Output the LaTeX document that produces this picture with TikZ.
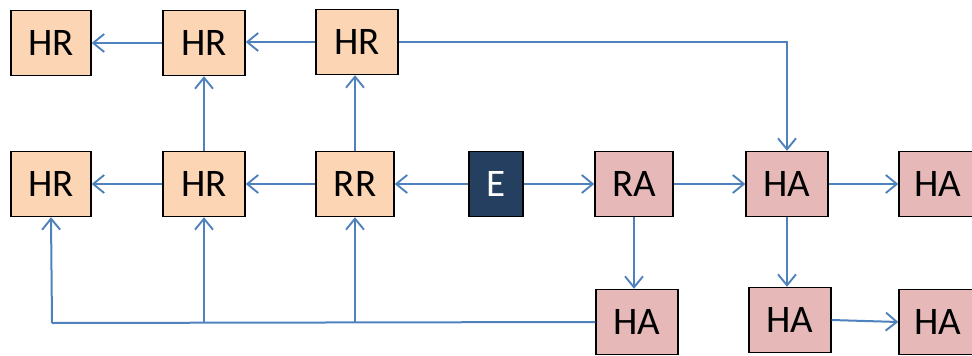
\documentclass[tikz,border=0pt]{standalone}
\usepackage{fontspec}
\setmainfont{Carlito}
\usetikzlibrary{arrows.meta}
\definecolor{hrfill}{HTML}{FCD5B5}
\definecolor{hafill}{HTML}{E6B9B8}
\definecolor{efill}{HTML}{243F60}
\definecolor{lnblue}{HTML}{4F81BD}
\begin{document}
\begin{tikzpicture}[x=1pt,y=-1pt,
  box/.style={draw=black, line width=1.4pt, minimum width=80pt, minimum height=65pt, inner sep=0pt, font=\fontsize{39}{41}\selectfont},
  hr/.style={box, fill=hrfill},
  ha/.style={box, fill=hafill},
  ebox/.style={box, fill=efill, text=white, minimum width=54pt},
  conn/.style={draw=lnblue, line width=2pt, -{Straight Barb[length=11pt,width=18pt,line width=1.9pt]}},
  plain/.style={draw=lnblue, line width=2pt}]
\useasboundingbox (0,0) rectangle (972,356);
\node[hr] (hr1) at (51,43) {HR};
\node[hr, minimum width=82pt] (hr2) at (204,43) {HR};
\node[hr, minimum width=82pt] (hr3) at (357,42) {HR};
\node[hr] (hr4) at (51,184) {HR};
\node[hr, minimum width=82pt] (hr5) at (204,184) {HR};
\node[hr, minimum width=78pt] (rr) at (355,184) {RR};
\node[ebox] (e) at (496,184) {E};
\node[ha, minimum width=78pt] (ra) at (634,184) {RA};
\node[ha, minimum width=82pt] (ha1) at (787,184) {HA};
\node[ha, minimum width=78pt] (ha2) at (938,184) {HA};
\node[ha, minimum width=82pt] (ha3) at (637,322) {HA};
\node[ha, minimum width=82pt] (ha4) at (790,320) {HA};
\node[ha, minimum width=78pt] (ha5) at (938,322) {HA};
\coordinate (c1) at (52,323);
\coordinate (c2) at (204,323);
\coordinate (c3) at (355,323);
\coordinate (c4) at (787,42);
% top row
\draw[conn] (hr2.west) -- (hr1.east);
\draw[conn] (hr3.west) -- (hr3.west -| hr2.east);
\draw[conn] (hr5.north) -- (hr2.south);
\draw[conn] (rr.north) -- (rr.north |- hr3.south);
\draw[conn] (hr3.east) -- (c4) -- (ha1.north);
% middle row
\draw[conn] (hr5.west) -- (hr4.east);
\draw[conn] (rr.west) -- (hr5.east);
\draw[conn] (e.west) -- (rr.east);
\draw[conn] (e.east) -- (ra.west);
\draw[conn] (ra.east) -- (ha1.west);
\draw[conn] (ha1.east) -- (ha2.west);
\draw[conn] (ra.south) -- (ra.south |- ha3.north);
\draw[conn] (ha1.south) -- (ha1.south |- ha4.north);
\draw[conn] (ha4.east) -- (ha5.west);
% bottom bus
\draw[plain] (ha3.west) -- (c1);
\draw[conn] (c1) -- (hr4.south);
\draw[conn] (c2) -- (hr5.south);
\draw[conn] (c3) -- (rr.south);
\end{tikzpicture}
\end{document}
